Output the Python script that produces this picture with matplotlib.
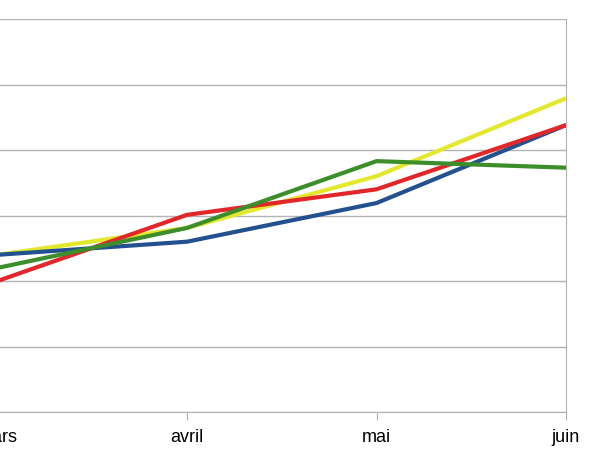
import matplotlib
matplotlib.use('Agg')
import matplotlib.pyplot as plt

plt.rcParams['font.family'] = ['Liberation Sans', 'DejaVu Sans']

months = ['mars', 'avril', 'mai', 'juin']
serie_jaune = [2.40, 2.81, 3.60, 4.79]
serie_bleue = [2.40, 2.60, 3.19, 4.38]
serie_rouge = [2.00, 3.01, 3.40, 4.38]
serie_verte = [2.20, 2.81, 3.83, 3.73]

fig = plt.figure(figsize=(6, 4.54), dpi=100)
# the plot area runs past the left edge, like the cropped original
ax = fig.add_axes([-2.5 / 600, 42 / 454, 568.5 / 600, 393 / 454])

x = range(len(months))
ax.plot(x, serie_jaune, color='#e4e82c', lw=3, solid_capstyle='butt', zorder=3)
ax.plot(x, serie_bleue, color='#23508e', lw=3, solid_capstyle='butt', zorder=4)
ax.plot(x, serie_rouge, color='#e2272b', lw=3, solid_capstyle='butt', zorder=5)
ax.plot(x, serie_verte, color='#3b8e2a', lw=3, solid_capstyle='butt', zorder=6)

ax.set_xlim(0, 3)
ax.set_ylim(0, 6)
ax.set_yticks(range(7))
ax.set_yticklabels([])
ax.tick_params(axis='y', length=0)
ax.grid(axis='y', color='#b3b3b3', lw=1)
ax.set_axisbelow(True)

ax.set_xticks(list(x))
ax.set_xticklabels(months, fontsize=13)
ax.tick_params(axis='x', direction='out', length=6, color='#b3b3b3', pad=6)

for side in ['top', 'left']:
    ax.spines[side].set_visible(False)
for side in ['bottom', 'right']:
    ax.spines[side].set_color('#b3b3b3')

fig.savefig('out.png', dpi=100)
